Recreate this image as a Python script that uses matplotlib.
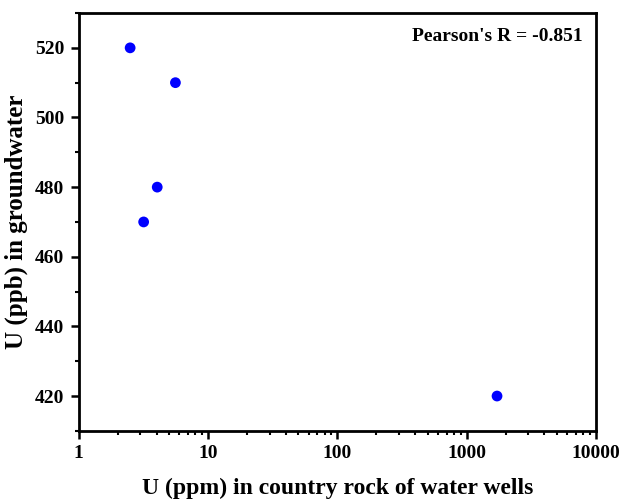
import matplotlib

matplotlib.use("Agg")
import matplotlib.pyplot as plt
from matplotlib.ticker import FixedLocator, LogLocator, MultipleLocator, NullFormatter

# U in country rock (ppm) vs U in groundwater (ppb)
rock_u_ppm = [2.5, 5.6, 4.05, 3.18, 1720]
water_u_ppb = [520, 510, 480, 470, 420]
pearson_r = -0.851

plt.rcParams["font.family"] = ["Liberation Serif", "DejaVu Serif"]
plt.rcParams["font.weight"] = "bold"

fig = plt.figure(figsize=(6.22, 5.01), dpi=100)
ax = fig.add_axes([0.1265, 0.140, 0.8315, 0.834])

ax.scatter(rock_u_ppm, water_u_ppb, s=60, color="#0000ff", edgecolors="none", zorder=3)

ax.set_xscale("log")
ax.set_xlim(1, 10000)
ax.set_ylim(410, 530)
ax.xaxis.set_major_locator(FixedLocator([1, 10, 100, 1000, 10000]))
ax.xaxis.set_major_formatter(plt.FuncFormatter(lambda v, _: f"{v:.0f}"))
ax.xaxis.set_minor_locator(LogLocator(base=10, subs=range(2, 10)))
ax.xaxis.set_minor_formatter(NullFormatter())
ax.yaxis.set_major_locator(FixedLocator([420, 440, 460, 480, 500, 520]))
ax.yaxis.set_minor_locator(MultipleLocator(10))

for side in ax.spines.values():
    side.set_linewidth(2.0)
ax.tick_params(which="major", direction="out", length=5.5, width=1.8, labelsize=14, pad=5)
ax.tick_params(which="minor", direction="out", length=3, width=1.5)
ax.tick_params(top=False, right=False, which="both")

ax.set_xlabel("U (ppm) in country rock of water wells", fontsize=17, fontweight="bold", labelpad=11)
ax.set_ylabel("U (ppb) in groundwater", fontsize=18, fontweight="bold", labelpad=5)

ax.text(0.975, 0.965, f"Pearson's R = {pearson_r}", transform=ax.transAxes,
        ha="right", va="top", fontsize=14, fontweight="bold")

fig.savefig("out.png", dpi=100)
